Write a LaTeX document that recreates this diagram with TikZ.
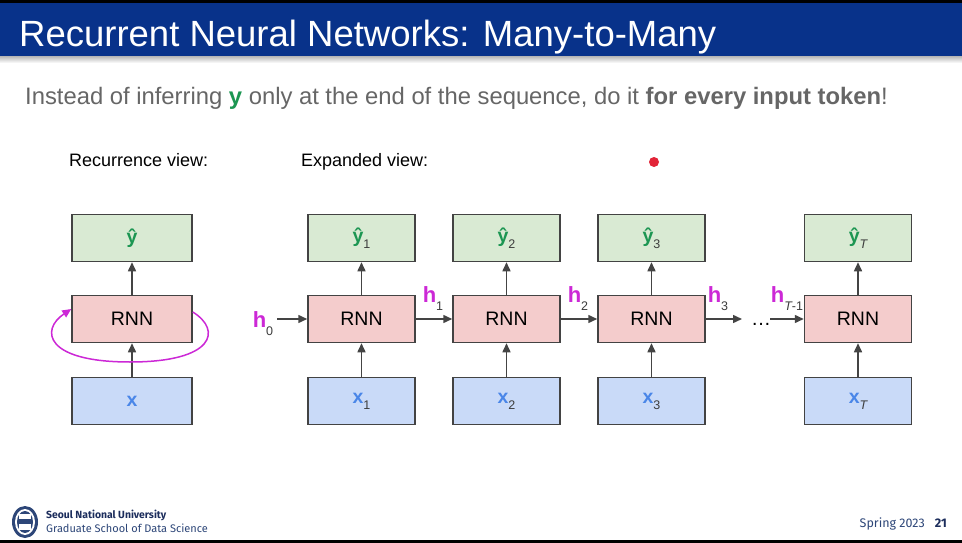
\documentclass[tikz,border=0pt]{standalone}
\usepackage{fontspec}
\setmainfont{Liberation Sans}
\newfontfamily\footfont{Fira Sans}
\usetikzlibrary{arrows.meta}
\definecolor{hdrblue}{RGB}{8,50,138}
\definecolor{subgrayt}{RGB}{102,102,102}
\definecolor{ygreen}{RGB}{28,150,82}
\definecolor{xblue}{RGB}{74,134,232}
\definecolor{hmag}{RGB}{204,40,214}
\definecolor{fillg}{RGB}{217,234,211}
\definecolor{fillr}{RGB}{244,204,204}
\definecolor{fillb}{RGB}{201,218,248}
\definecolor{boxline}{RGB}{67,67,67}
\definecolor{arrgray}{RGB}{68,68,68}
\definecolor{subdark}{RGB}{60,60,60}
\definecolor{navy}{RGB}{28,45,92}
\definecolor{navyl}{RGB}{45,70,120}
\definecolor{dotred}{RGB}{226,36,56}
\tikzset{
  box/.style={draw=boxline, line width=1.5pt, minimum height=47pt, inner sep=0pt, font=\fontsize{19.5}{22}\selectfont},
  wbox/.style={box, minimum width=107pt},
  lbox/.style={box, minimum width=120pt},
  ybox/.style={fill=fillg},
  rbox/.style={fill=fillr},
  xbox/.style={fill=fillb},
  arr/.style={draw=arrgray, line width=1.5pt, -{Triangle[length=9pt,width=8pt]}},
  loop/.style={draw=hmag, line width=1.5pt, -{Triangle[length=9pt,width=8pt]}},
  hlab/.style={inner sep=0pt, font=\fontsize{22}{24}\selectfont},
  caption/.style={anchor=base west, inner sep=0pt, font=\fontsize{18}{21}\selectfont},
}
\newcommand{\yh}[1]{{\bfseries\color{ygreen}ŷ}\raisebox{-6pt}{\fontsize{12.5}{14}\selectfont\color{subdark}#1}}
\newcommand{\xv}[1]{{\bfseries\color{xblue}x}\raisebox{-6pt}{\fontsize{12.5}{14}\selectfont\color{subdark}#1}}
\newcommand{\hv}[1]{{\bfseries\color{hmag}h}\raisebox{-8pt}{\fontsize{12.5}{14}\selectfont\color{subdark}#1}}
\begin{document}
\begin{tikzpicture}[x=1pt,y=-1pt]
\useasboundingbox (0,0) rectangle (962,543);
\fill[white] (0,0) rectangle (962,543);
% header
\fill[black] (0,0) rectangle (962,3);
\fill[hdrblue] (0,3) rectangle (962,57);
\shade[top color=black!25, bottom color=white] (0,57) rectangle (962,63);
\node[anchor=base west, inner sep=0pt, text=white, font=\fontsize{36.5}{42}\selectfont] (title) at (19,47) {Recurrent Neural Networks: Many-to-Many};
\node[anchor=base west, inner sep=0pt, text=subgrayt, font=\fontsize{23.8}{27}\selectfont] (sub) at (25,105)
  {Instead of inferring {\bfseries\color{ygreen}y} only at the end of the sequence, do it {\bfseries for every input token}!};
% captions
\node[caption] (rv) at (69,166) {Recurrence view:};
\node[caption] (ev) at (301,166) {Expanded view:};
\fill[dotred] (654,162) circle (5);
% recurrence view
\node[lbox, ybox] (yl) at (132,238) {{\bfseries\color{ygreen}ŷ}};
\node[lbox, rbox] (rl) at (132,319) {RNN};
\node[lbox, xbox] (xl) at (132,401) {{\bfseries\color{xblue}x}};
\draw[arr] (xl) -- (rl);
\draw[arr] (rl) -- (yl);
\draw[loop] ([yshift=7pt]rl.east) .. controls (222,330) and (215,362) .. (130,362)
   .. controls (45,362) and (40,330) .. ([yshift=10pt]rl.west);
% expanded view
\foreach \i/\cx/\lab in {1/361.5/1, 2/506.5/2, 3/651.5/3, 4/858/\itshape T}{
  \node[wbox, ybox] (y\i) at (\cx,238) {\yh{\lab}};
  \node[wbox, rbox] (r\i) at (\cx,319) {RNN};
  \node[wbox, xbox] (x\i) at (\cx,401) {\xv{\lab}};
  \draw[arr] (x\i) -- (r\i);
  \draw[arr] (r\i) -- (y\i);
}
\coordinate (h0s) at (277,319);
\coordinate (h3e) at (742,319);
\coordinate (hTs) at (770,319);
\draw[arr] (h0s) -- (r1);
\draw[arr] (r1) -- (r2);
\draw[arr] (r2) -- (r3);
\draw[arr] (r3) -- (h3e);
\draw[arr] (hTs) -- (r4);
\node[hlab] (h0) at (263,324) {\hv{0}};
\node[hlab] (h1) at (433,299) {\hv{1}};
\node[hlab] (h2) at (578,299) {\hv{2}};
\node[hlab] (h3) at (718,299) {\hv{3}};
\node[hlab] (hT) at (787,299) {\hv{{\itshape T}-1}};
\node[inner sep=0pt, font=\fontsize{20}{22}\selectfont] (dots) at (761,324) {\dots};
% footer
\fill[black] (0,540) rectangle (962,543);
\begin{scope}
  \fill[navyl] (25,522) ellipse (13 and 16);
  \fill[white] (25,522) ellipse (10 and 13);
  \fill[navyl] (25,522) ellipse (8 and 11);
  \fill[white] (19,514) rectangle (31,519);
  \fill[white] (19,524) rectangle (31,530);
\end{scope}
\node[anchor=base west, inner sep=0pt, text=navy, font=\footfont\bfseries\fontsize{10.4}{13}\selectfont] (snu) at (46,518) {Seoul National University};
\node[anchor=base west, inner sep=0pt, text=navyl, font=\footfont\fontsize{11}{13}\selectfont] (gsds) at (46,532) {Graduate School of Data Science};
\node[anchor=base east, inner sep=0pt, text=navyl, font=\footfont\fontsize{12.5}{14}\selectfont] (spr) at (925,527) {Spring 2023};
\node[anchor=base east, inner sep=0pt, text=navy, font=\footfont\bfseries\fontsize{12.5}{14}\selectfont] (pg) at (947,527) {21};
\end{tikzpicture}
\end{document}
